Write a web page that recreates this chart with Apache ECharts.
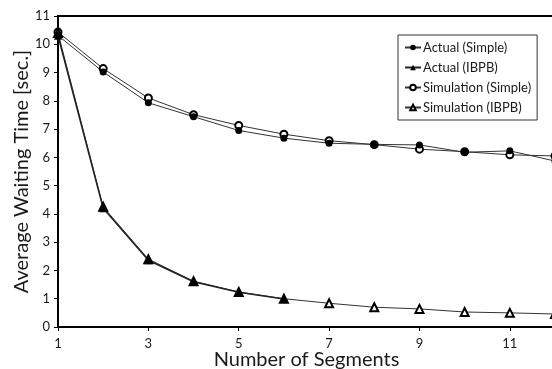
<!DOCTYPE html>
<html>
<head>
<meta charset="utf-8">
<script src="https://cdn.jsdelivr.net/npm/echarts@6/dist/echarts.min.js"></script>
<style>
  html, body { margin: 0; padding: 0; background: #fff; }
  #chart { width: 552px; height: 369px; }
</style>
</head>
<body>
<div id="chart"></div>
<script>
// segments (x values)
const segments = [1, 2, 3, 4, 5, 6, 7, 8, 9, 10, 11, 12];
const segmentsActualIBPB = [1, 2, 3, 4, 5, 6];

// average waiting time [sec.]
const actualSimple = [10.31, 9.02, 7.93, 7.44, 6.95, 6.68, 6.5, 6.46, 6.44, 6.18, 6.23, 5.87];
const actualIBPB = [10.3, 4.2, 2.36, 1.6, 1.23, 0.99];
const simSimple = [10.43, 9.14, 8.1, 7.51, 7.13, 6.82, 6.59, 6.45, 6.29, 6.2, 6.09, 6.05];
const simIBPB = [10.4, 4.25, 2.4, 1.62, 1.24, 1.0, 0.84, 0.7, 0.64, 0.53, 0.5, 0.46];

const legendNames = ["Actual (Simple)", "Actual (IBPB)", "Simulation (Simple)", "Simulation (IBPB)"];

const zip = (xs, ys) => ys.map((y, i) => [xs[i], y]);

const font = "Lato, 'DejaVu Sans', sans-serif";
const chart = echarts.init(document.getElementById("chart"), null, { renderer: "canvas" });

const option = {
  animation: false,
  textStyle: { fontFamily: font, color: "#1a1a1a" },
  grid: {
    left: 58,
    top: 16,
    right: -3,
    bottom: 42,
    show: true,
    borderColor: "#000",
    borderWidth: 2,
    containLabel: false,
    outerBoundsMode: "none"
  },
  legend: {
    data: legendNames.map(n => ({ name: n })),
    orient: "vertical",
    left: 398,
    top: 35,
    padding: [6, 6, 6, 6],
    itemGap: 7,
    itemWidth: 16,
    itemHeight: 7,
    borderColor: "#333",
    borderWidth: 1,
    backgroundColor: "#fff",
    textStyle: { fontFamily: font, fontSize: 13, color: "#1a1a1a", padding: [0, 0, 0, -3] }
  },
  xAxis: {
    type: "value",
    min: 1,
    max: 12,
    interval: 2,
    name: "Number of Segments",
    nameLocation: "middle",
    nameGap: 23,
    nameMoveOverlap: false,
    nameTextStyle: { fontSize: 20, color: "#1a1a1a" },
    axisLine: { show: true, lineStyle: { color: "#000", width: 2 } },
    axisTick: { show: true, length: 4, lineStyle: { color: "#000" } },
    axisLabel: { fontSize: 13, color: "#1a1a1a", margin: 10, showMaxLabel: false },
    splitLine: { show: false }
  },
  yAxis: {
    type: "value",
    min: 0,
    max: 11,
    interval: 1,
    name: "Average Waiting Time [sec.]",
    nameLocation: "middle",
    nameGap: 26,
    nameMoveOverlap: false,
    nameTextStyle: { fontSize: 20, color: "#1a1a1a" },
    axisLine: { show: true, lineStyle: { color: "#000", width: 2 } },
    axisTick: { show: true, length: 4, lineStyle: { color: "#000" } },
    axisLabel: { fontSize: 13, color: "#1a1a1a", margin: 8 },
    splitLine: { show: false }
  },
  series: [
    {
      name: "Simulation (Simple)",
      type: "line",
      data: zip(segments, simSimple),
      symbol: "emptyCircle",
      symbolSize: 7,
      itemStyle: { color: "#000", borderWidth: 1 },
      lineStyle: { color: "#333", width: 1 }
    },
    {
      name: "Simulation (IBPB)",
      type: "line",
      data: zip(segments, simIBPB),
      symbol: "emptyTriangle",
      symbolSize: 8,
      itemStyle: { color: "#000", borderWidth: 1 },
      lineStyle: { color: "#333", width: 1 }
    },
    {
      name: "Actual (Simple)",
      type: "line",
      data: zip(segments, actualSimple),
      symbol: "circle",
      symbolSize: 7,
      itemStyle: { color: "#000" },
      lineStyle: { color: "#333", width: 1 }
    },
    {
      name: "Actual (IBPB)",
      type: "line",
      data: zip(segmentsActualIBPB, actualIBPB),
      symbol: "triangle",
      symbolSize: 8,
      itemStyle: { color: "#000" },
      lineStyle: { color: "#222", width: 1.5 }
    }
  ]
};

chart.setOption(option);
</script>
</body>
</html>
